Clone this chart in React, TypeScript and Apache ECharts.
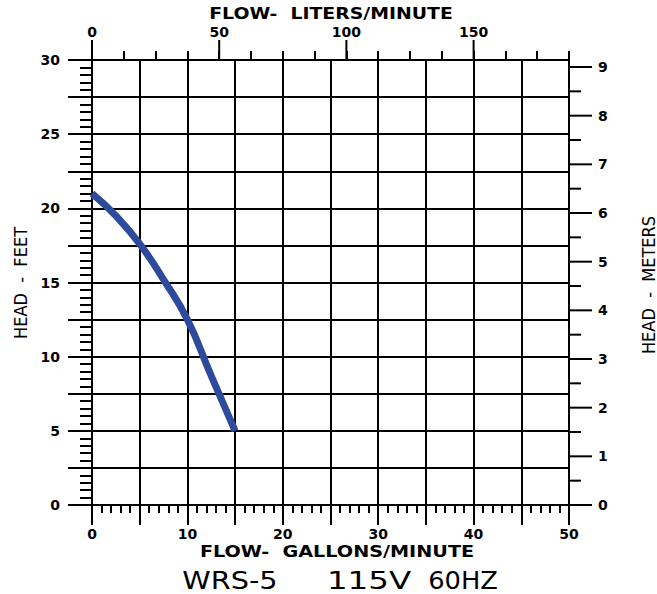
import React, { useEffect, useRef } from "react";
import * as echarts from "echarts";

const flowGpm = [0, 2.5, 5, 7.5, 10, 12.5, 15];
const headFt = [21, 19.5, 17.6, 15.2, 12.5, 8.7, 5];

const gpmLabels = [0, 10, 20, 30, 40, 50];
const lpmLabels = [0, 50, 100, 150];
const ftLabels = [0, 5, 10, 15, 20, 25, 30];
const mLabels = [0, 1, 2, 3, 4, 5, 6, 7, 8, 9];
const mMinor = [0.5, 1.5, 2.5, 3.5, 4.5, 5.5, 6.5, 7.5, 8.5];

const BLACK = "#000";
const LABEL_FONT = "'DejaVu Sans', sans-serif";

function txt(x: number, y: number, text: string, font: string, extra: any = {}) {
  return {
    type: "text",
    x,
    y,
    ...extra,
    style: {
      text,
      font,
      fill: BLACK,
      align: "center",
      verticalAlign: "middle",
      textAlign: "center",
      textVerticalAlign: "middle",
    },
  };
}

function tickSeries(xIdx: number, yIdx: number, data: number[][], dx: number, dy: number) {
  return {
    type: "custom",
    xAxisIndex: xIdx,
    yAxisIndex: yIdx,
    clip: false,
    silent: true,
    data,
    renderItem: (_p: any, api: any) => {
      const pt = api.coord([api.value(0), api.value(1)]);
      return {
        type: "line",
        shape: { x1: pt[0], y1: pt[1], x2: pt[0] + dx, y2: pt[1] + dy },
        style: { stroke: BLACK, lineWidth: 2 },
      };
    },
  };
}

export default function App() {
  const ref = useRef<HTMLDivElement>(null);
  useEffect(() => {
    if (!ref.current) return;
    const chart = echarts.init(ref.current, undefined, { renderer: "svg" });
    const labelStyle = {
      color: BLACK,
      fontFamily: LABEL_FONT,
      fontWeight: "bold" as const,
      fontSize: 14,
    };
    const lineStyle = { color: BLACK, width: 2 };
    const titleFont = "bold 16px 'DejaVu Sans', sans-serif";
    const bigFont = "25px 'DejaVu Sans', sans-serif";
    const sideFont = "18px 'DejaVu Sans Condensed', 'DejaVu Sans', sans-serif";
    chart.setOption({
      animation: false,
      backgroundColor: "#fff",
      grid: { left: 92, right: 88, top: 60, bottom: 89, containLabel: false },
      xAxis: [
        {
          type: "value",
          position: "bottom",
          min: 0,
          max: 50,
          interval: 5,
          axisLine: { show: true, onZero: false, lineStyle },
          axisTick: { show: true, length: 20, lineStyle },
          minorTick: { show: true, splitNumber: 5, length: 8, lineStyle: { color: BLACK, width: 2 } },
          splitLine: { show: true, lineStyle },
          minorSplitLine: { show: false },
          axisLabel: { ...labelStyle, margin: 22, customValues: gpmLabels },
        },
        {
          type: "value",
          position: "top",
          min: 0,
          max: 187.5,
          interval: 12.5,
          axisLine: { show: true, onZero: false, lineStyle },
          axisTick: { show: true, length: 9, lineStyle },
          splitLine: { show: false },
          axisLabel: { ...labelStyle, margin: 21, customValues: lpmLabels },
        },
      ],
      yAxis: [
        {
          type: "value",
          position: "left",
          min: 0,
          max: 30,
          interval: 2.5,
          axisLine: { show: true, onZero: false, lineStyle },
          axisTick: { show: true, length: 24, lineStyle },
          minorTick: { show: true, splitNumber: 5, length: 12, lineStyle: { color: BLACK, width: 2 } },
          splitLine: { show: true, lineStyle },
          axisLabel: { ...labelStyle, margin: 32, customValues: ftLabels },
        },
        {
          type: "value",
          position: "right",
          min: 0,
          max: 9.144,
          axisLine: { show: true, onZero: false, lineStyle },
          axisTick: { show: false },
          splitLine: { show: false },
          axisLabel: { ...labelStyle, margin: 29, customValues: mLabels },
        },
      ],
      graphic: [
        txt(331, 14, "FLOW-\u00a0\u00a0LITERS/MINUTE", titleFont, { scaleX: 1.18 }),
        txt(337, 552, "FLOW-\u00a0\u00a0GALLONS/MINUTE", titleFont, { scaleX: 1.2 }),
        txt(230, 580, "WRS-5", bigFont, { scaleX: 1.15 }),
        txt(369, 580, "115V", bigFont, { scaleX: 1.3 }),
        txt(463, 580, "60HZ", bigFont, { scaleX: 1.03 }),
        txt(20, 283, "HEAD\u00a0\u00a0-\u00a0\u00a0FEET", sideFont, { rotation: Math.PI / 2 }),
        txt(648, 285, "HEAD\u00a0\u00a0-\u00a0\u00a0METERS", sideFont, { rotation: Math.PI / 2 }),
      ],
      series: [
        tickSeries(1, 0, lpmLabels.map((v) => [v, 30]), 0, -20),
        tickSeries(0, 1, mLabels.map((v) => [50, v]), 23, 0),
        tickSeries(0, 1, mMinor.map((v) => [50, v]), 12, 0),
        {
          type: "line",
          xAxisIndex: 0,
          yAxisIndex: 0,
          data: flowGpm.map((x, i) => [x, headFt[i]]),
          smooth: true,
          showSymbol: false,
          symbol: "none",
          lineStyle: { color: "#2e4a9c", width: 7 },
          z: 10,
        },
      ],
    });
    return () => chart.dispose();
  }, []);
  return (
    <div
      ref={ref}
      style={{ position: "fixed", left: 0, top: 0, width: 657, height: 594, background: "#fff" }}
    />
  );
}
